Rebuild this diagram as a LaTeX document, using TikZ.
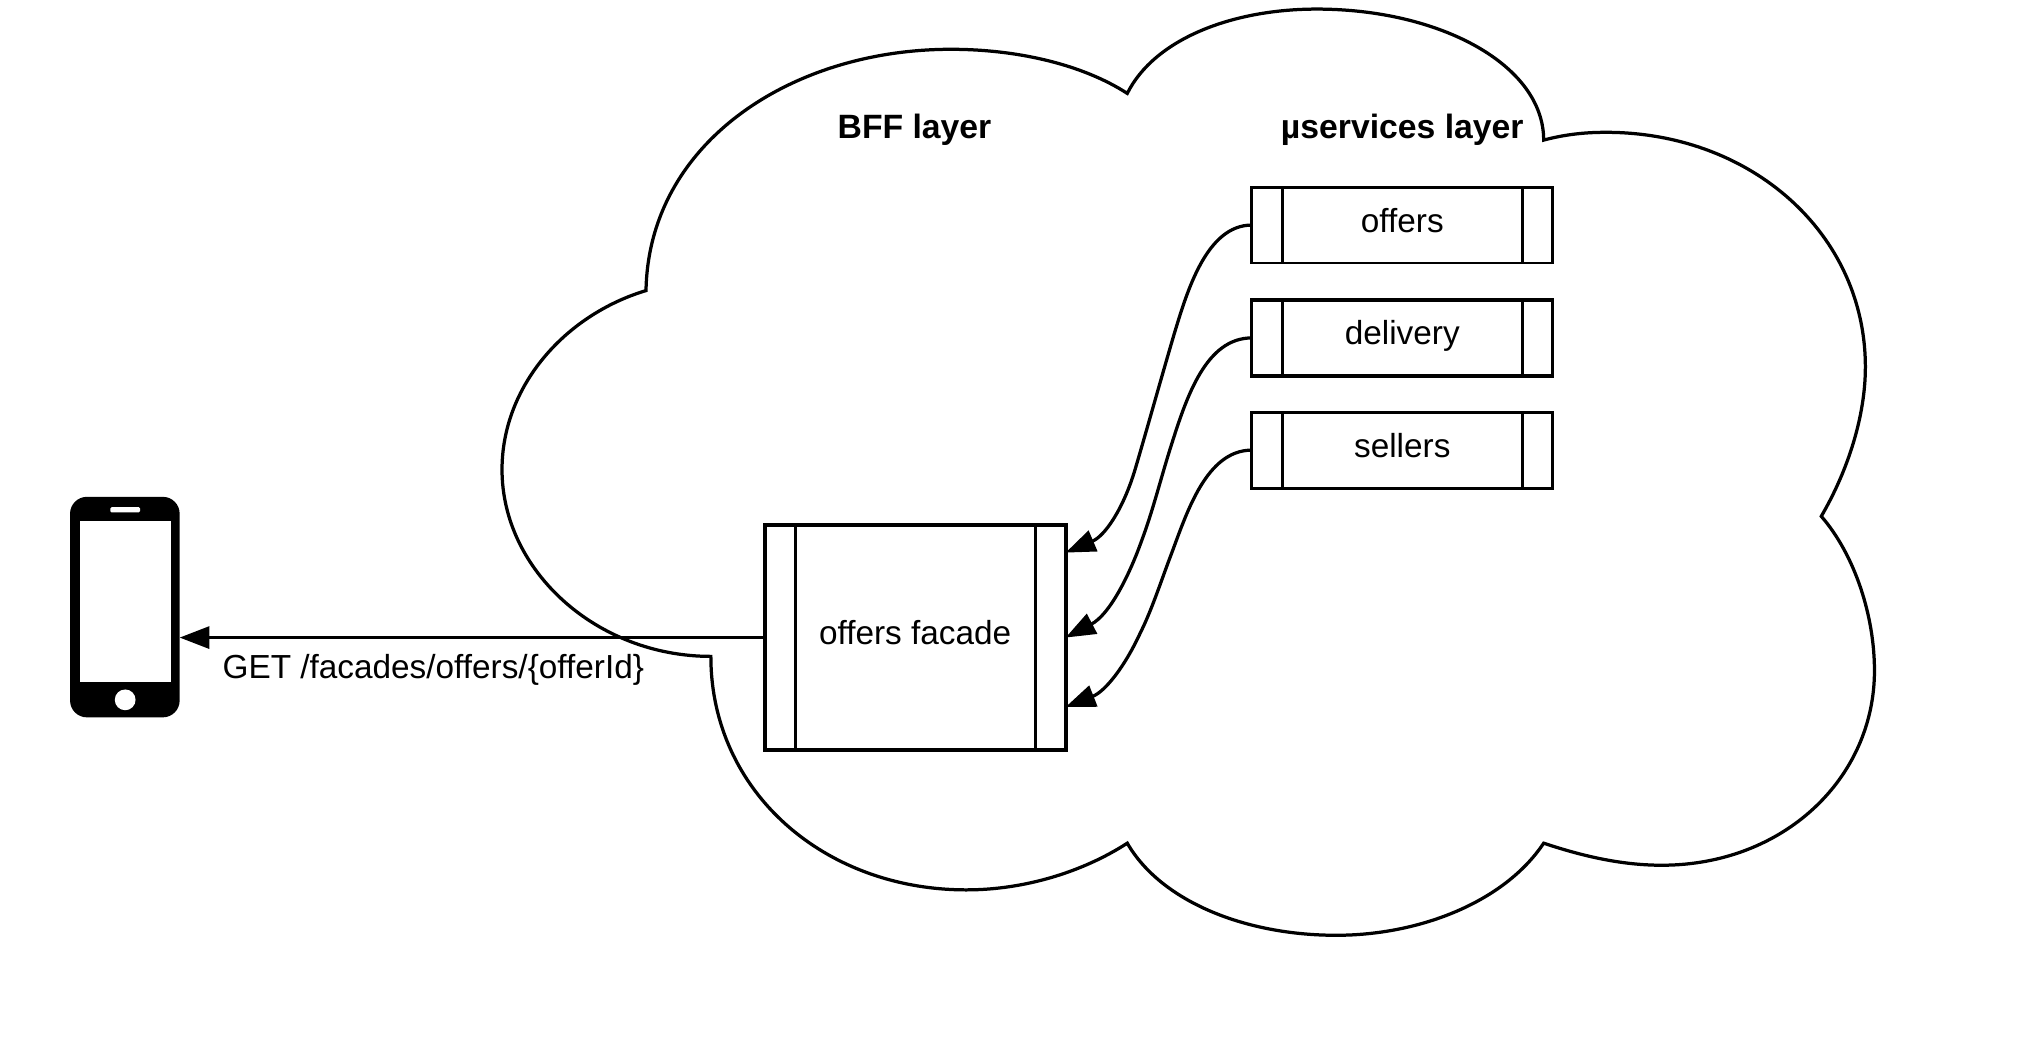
\documentclass[tikz,border=0pt]{standalone}
\usepackage{fontspec}
\setmainfont{Liberation Sans}
\usetikzlibrary{arrows.meta}
\tikzset{
  lineart/.style={draw=black,line width=1.25pt},
  svcbox/.style={draw=black,line width=1.1pt,rectangle,inner sep=0pt,outer sep=0pt,minimum width=116pt,minimum height=29.25pt},
  heavybox/.style={line width=1.3pt},
  lbl/.style={anchor=base,inner sep=0pt,font=\fontsize{12.85}{15}\selectfont},
  lblb/.style={lbl,font=\fontsize{13}{15}\selectfont\bfseries},
  conn/.style={lineart,-{Triangle[length=11.5pt,width=8.5pt]}},
  phonepart/.style={fill=white,draw=none,inner sep=0pt,outer sep=0pt}
}
\newcommand{\innerbars}[2][1.1pt]{%
  \draw[black,line width=#1] ([xshift=11.75pt]#2.north west) -- ([xshift=11.75pt]#2.south west);
  \draw[black,line width=#1] ([xshift=-11.75pt]#2.north east) -- ([xshift=-11.75pt]#2.south east);
}
\begin{document}
\begin{tikzpicture}[x=0.5pt,y=-0.5pt]
\useasboundingbox (0,0) rectangle (1568,802.5);
% cloud
\draw[lineart,line join=miter]
  (498,224) .. controls (500,110) and (610,38) .. (733,38)
  .. controls (785,38) and (835,50) .. (869,72)
  .. controls (890,30) and (950,7) .. (1015,7)
  .. controls (1110,7) and (1190,50) .. (1190,108)
  .. controls (1205,104) and (1220,102) .. (1238,102)
  .. controls (1350,102) and (1438,180) .. (1438,283)
  .. controls (1438,320) and (1425,362) .. (1404,398)
  .. controls (1430,428) and (1445,475) .. (1445,517)
  .. controls (1445,600) and (1375,667) .. (1281,667)
  .. controls (1250,667) and (1220,660) .. (1190,650)
  .. controls (1160,695) and (1095,721) .. (1030,721)
  .. controls (960,721) and (895,695) .. (869,650)
  .. controls (835,672) and (790,686) .. (745,686)
  .. controls (635,686) and (548,610) .. (548,506)
  .. controls (460,506) and (387,440) .. (387,362)
  .. controls (387,298) and (435,243) .. (498,224) -- cycle;
% service boxes
\node[svcbox] (offers) at (1081,173.5) {};
\node[svcbox,heavybox] (delivery) at (1081,260.5) {};
\node[svcbox] (sellers) at (1081,347) {};
\node[svcbox,line width=1.5pt,minimum height=86.5pt] (facade) at (705.5,491.5) {};
\innerbars{offers}
\innerbars{delivery}
\innerbars{sellers}
\innerbars{facade}
% labels
\node[lblb] (bfflbl) at (705,106.4) {BFF layer};
\node[lblb] (uslbl) at (1081,106.4) {µservices layer};
\node[lbl] (offerslbl) at (1081,179) {offers};
\node[lbl] (deliverylbl) at (1081,265.5) {delivery};
\node[lbl] (sellerslbl) at (1081,352.5) {sellers};
\node[lbl] (facadelbl) at (705.5,496.6) {offers facade};
\node[lbl] (getlbl) at (334,522.8) {GET /facades/offers/\{offerId\}};
% phone
\node[fill=black,draw=none,rectangle,rounded corners=6.5pt,inner sep=0pt,outer sep=0pt,minimum width=42.25pt,minimum height=85pt] (phone) at (96.25,468) {};
\node[phonepart,rectangle,minimum width=35.25pt,minimum height=62pt] (screen) at (96.75,464) {};
\node[phonepart,rectangle,rounded corners=0.5pt,minimum width=11.5pt,minimum height=2pt] (speaker) at (96.5,393) {};
\node[phonepart,circle,minimum size=8pt] (homebtn) at (96.5,539.5) {};
% connectors
\draw[conn] (facade.west) -- (phone.east |- facade.west);
\draw[conn] (offers.west) .. controls (930,173.5) and (915,225) .. (905,258)
  .. controls (895,292) and (885,328) .. (875,362)
  .. controls (866,392) and (852,413) .. ([yshift=32.75pt]facade.east);
\draw[conn] (delivery.west) .. controls (930,260.5) and (915,305) .. (903,343)
  .. controls (895,368) and (889,393) .. (880,417)
  .. controls (870,445) and (855,474) .. (facade.east);
\draw[conn] (sellers.west) .. controls (930,347) and (915,395) .. (903,427)
  .. controls (895,448) and (888,470) .. (879,488)
  .. controls (867,514) and (852,533) .. ([yshift=-26.75pt]facade.east);
\end{tikzpicture}
\end{document}
